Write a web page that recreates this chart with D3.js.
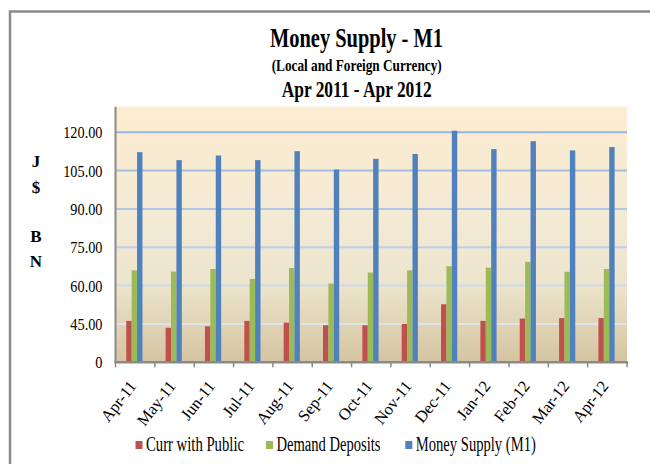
<!DOCTYPE html>
<html>
<head>
<meta charset="utf-8">
<script src="https://cdn.jsdelivr.net/npm/d3@7/dist/d3.min.js"></script>
<style>
  body { margin: 0; background: #fff; }
  svg { display: block; }
  text { font-family: "Liberation Serif", "Times New Roman", serif; fill: #000; }
</style>
</head>
<body>
<div id="chart"></div>
<script>
// months shown on the x axis
var months = ['Apr-11', 'May-11', 'Jun-11', 'Jul-11', 'Aug-11', 'Sep-11', 'Oct-11',
              'Nov-11', 'Dec-11', 'Jan-12', 'Feb-12', 'Mar-12', 'Apr-12'];
var seriesNames = ['Curr with Public', 'Demand Deposits', 'Money Supply (M1)'];
var currWithPublic  = [46.2, 43.5, 44.1, 46.2, 45.5, 44.5, 44.5, 45.0, 52.7, 46.2, 47.1, 47.3, 47.3];
var demandDeposits  = [66.0, 65.5, 66.5, 62.6, 66.9, 60.8, 65.1, 66.0, 67.6, 67.0, 69.3, 65.4, 66.5];
var moneySupply     = [112.2, 109.1, 110.9, 109.1, 112.6, 105.4, 109.6, 111.5, 120.6, 113.4, 116.5, 112.9, 114.2];
// y axis (the bottom of the axis is labelled "0" in the original)
var yTicks      = [30, 45, 60, 75, 90, 105, 120];
var yTickLabels = ['0', '45.00', '60.00', '75.00', '90.00', '105.00', '120.00'];
var colors = ['#c0504d', '#9bbb59', '#4f81bd'];

(function(d3) {
  'use strict';

  var width = 650, height = 464;
  var plot = { left: 115.5, right: 627, top: 106.7, bottom: 362.3 };

  var svg = d3.select('#chart').append('svg')
    .attr('width', width)
    .attr('height', height);

  var defs = svg.append('defs');
  var grad = defs.append('linearGradient')
    .attr('id', 'bg').attr('x1', 0).attr('y1', 0).attr('x2', 0).attr('y2', 1);
  [[0, '#fdecd0'], [0.45, '#f3ead5'], [0.7, '#ece4cc'], [0.85, '#e0d4b6'], [1, '#d5c4a0']]
    .forEach(function(s) {
      grad.append('stop').attr('offset', s[0]).attr('stop-color', s[1]);
    });

  // outer frame
  svg.append('rect')
    .attr('x', 10).attr('y', 11.5)
    .attr('width', 720).attr('height', 520)
    .attr('fill', '#fff')
    .attr('stroke', '#8a8a8a')
    .attr('stroke-width', 2.5);

  // titles
  svg.append('text')
    .attr('x', 356.5).attr('y', 47)
    .attr('text-anchor', 'middle')
    .style('font-size', '28px').style('font-weight', 'bold')
    .attr('textLength', 173).attr('lengthAdjust', 'spacingAndGlyphs')
    .text('Money Supply - M1');
  svg.append('text')
    .attr('x', 356.7).attr('y', 71)
    .attr('text-anchor', 'middle')
    .style('font-size', '16px').style('font-weight', 'bold')
    .attr('textLength', 170).attr('lengthAdjust', 'spacingAndGlyphs')
    .text('(Local and Foreign Currency)');
  svg.append('text')
    .attr('x', 356.7).attr('y', 97)
    .attr('text-anchor', 'middle')
    .style('font-size', '23px').style('font-weight', 'bold')
    .attr('textLength', 150).attr('lengthAdjust', 'spacingAndGlyphs')
    .text('Apr 2011 - Apr 2012');

  // plot background
  svg.append('rect')
    .attr('x', plot.left).attr('y', plot.top)
    .attr('width', plot.right - plot.left)
    .attr('height', plot.bottom - plot.top)
    .attr('fill', 'url(#bg)');

  var x = d3.scaleBand()
    .domain(months)
    .range([plot.left, plot.right])
    .padding(0);

  var y = d3.scaleLinear()
    .domain([30, 130])
    .range([plot.bottom, plot.top]);

  var barW = 5.4;
  var x1 = d3.scaleBand()
    .domain(seriesNames)
    .range([0, barW * 3]);

  // gridlines: paler towards the bottom
  var gridColor = d3.scaleLinear()
    .domain([45, 75, 120])
    .range(['#dfe3ee', '#bccfec', '#97b5e2']);
  svg.append('g').selectAll('line')
    .data(yTicks.slice(1))
    .enter().append('line')
    .attr('x1', plot.left).attr('x2', plot.right)
    .attr('y1', function(d) { return y(d); })
    .attr('y2', function(d) { return y(d); })
    .attr('stroke', function(d) { return gridColor(d); })
    .attr('stroke-width', 2);

  // bars
  var series = [currWithPublic, demandDeposits, moneySupply];
  var groups = svg.append('g').selectAll('g')
    .data(months)
    .enter().append('g')
    .attr('transform', function(d) {
      return 'translate(' + (x(d) + x.bandwidth() / 2 - barW * 1.5 - 0.8) + ',0)';
    });
  groups.selectAll('rect')
    .data(function(d, i) {
      return seriesNames.map(function(s, k) { return { name: s, value: series[k][i], k: k }; });
    })
    .enter().append('rect')
    .attr('x', function(d) { return x1(d.name); })
    .attr('width', x1.bandwidth())
    .attr('y', function(d) { return y(d.value); })
    .attr('height', function(d) { return y(30) - y(d.value); })
    .attr('fill', function(d) { return colors[d.k]; });

  // y axis
  var yAxis = svg.append('g')
    .attr('transform', 'translate(' + plot.left + ',0)')
    .call(d3.axisLeft(y)
      .tickValues(yTicks)
      .tickSize(0)
      .tickPadding(13)
      .tickFormat(function(d, i) { return yTickLabels[i]; }));
  yAxis.select('.domain')
    .attr('d', 'M0,' + plot.top + 'V' + plot.bottom)
    .attr('stroke', '#8a8a8a')
    .attr('stroke-width', 2);
  // the original font is narrow: squeeze it a bit
  yAxis.selectAll('text')
    .style('font-family', '"Liberation Serif", serif')
    .style('font-size', '17px')
    .attr('fill', '#000')
    .each(function() {
      var len = this.getComputedTextLength();
      d3.select(this).attr('textLength', len * 0.84).attr('lengthAdjust', 'spacingAndGlyphs');
    });

  // x axis
  var xAxis = svg.append('g')
    .attr('transform', 'translate(0,' + plot.bottom + ')');
  xAxis.append('line')
    .attr('x1', plot.left - 1).attr('x2', plot.right + 1)
    .attr('stroke', '#8a8a8a').attr('stroke-width', 2.5);
  var edges = months.map(function(m) { return x(m); }).concat([plot.right]);
  xAxis.selectAll('.tick')
    .data(edges)
    .enter().append('line')
    .attr('x1', function(d) { return d; })
    .attr('x2', function(d) { return d; })
    .attr('y1', 0).attr('y2', 5)
    .attr('stroke', '#8a8a8a').attr('stroke-width', 1.5);
  xAxis.selectAll('.lbl')
    .data(months)
    .enter().append('text')
    .attr('text-anchor', 'end')
    .style('font-size', '16.5px')
    .attr('transform', function(d) {
      return 'translate(' + (x(d) + x.bandwidth() / 2 + 2) + ',24) rotate(-52)';
    })
    .text(function(d) { return d; });

  // "J$ BN" label
  svg.append('g').selectAll('text')
    .data([['J', 166.7], ['$', 192.7], ['B', 241.7], ['N', 266.7]])
    .enter().append('text')
    .attr('x', 36).attr('y', function(d) { return d[1]; })
    .attr('text-anchor', 'middle')
    .style('font-size', '17px').style('font-weight', 'bold')
    .text(function(d) { return d[0]; });

  // legend
  var legendItems = [
    { x: 135.5, w: 98 },
    { x: 266, w: 104 },
    { x: 405.3, w: 120 }
  ];
  var legend = svg.append('g').selectAll('g')
    .data(seriesNames)
    .enter().append('g')
    .attr('transform', function(d, i) { return 'translate(' + legendItems[i].x + ',441)'; });
  legend.append('rect')
    .attr('width', 7).attr('height', 8)
    .attr('fill', function(d, i) { return colors[i]; });
  legend.append('text')
    .attr('x', 10.5).attr('y', 10)
    .style('font-size', '20px')
    .attr('textLength', function(d, i) { return legendItems[i].w; })
    .attr('lengthAdjust', 'spacingAndGlyphs')
    .text(function(d) { return d; });

})(window.d3);
</script>
</body>
</html>
